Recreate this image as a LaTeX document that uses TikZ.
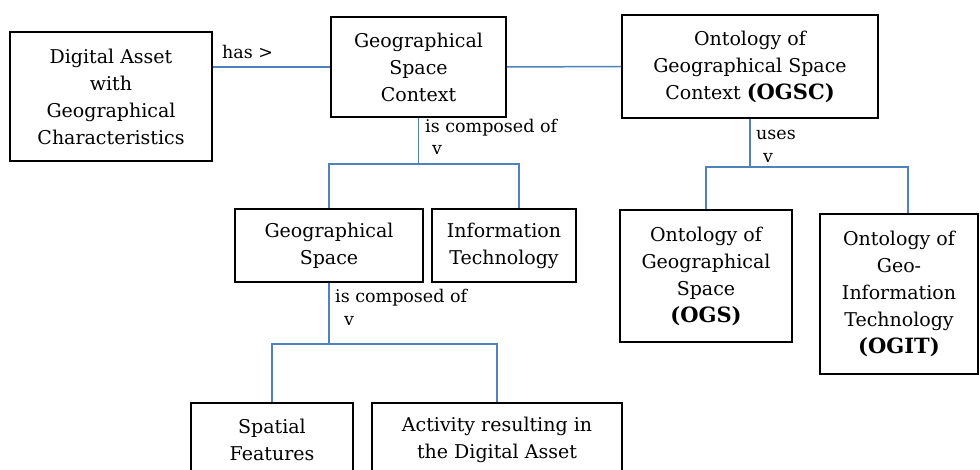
\documentclass[tikz,border=0pt]{standalone}
\usepackage{fontspec}
\setmainfont{DejaVu Serif}
\usetikzlibrary{calc}
\begin{document}
\begin{tikzpicture}[x=1pt,y=-1pt,
  box/.style={draw=black, line width=1.6pt, align=center, inner sep=0pt,
    font=\fontsize{19}{27}\selectfont},
  link/.style={draw=linkblue, line width=1.5pt},
  lbl/.style={anchor=west, inner sep=0pt, font=\fontsize{17.5}{20}\selectfont}]
\definecolor{linkblue}{RGB}{79,129,189}
\newcommand\acr[1]{{\fontsize{21}{29}\selectfont\bfseries #1}}
\useasboundingbox (0,0) rectangle (980,470);

% boxes
\node[box, minimum width=202pt, minimum height=129pt] (asset) at (111,96.5)
  {Digital Asset\\with\\Geographical\\Characteristics};
\node[box, minimum width=175pt, minimum height=100pt] (gsc) at (418.5,67)
  {Geographical\\Space\\Context};
\node[box, minimum width=256pt, minimum height=103pt] (ogsc) at (750,66.5)
  {Ontology of\\Geographical Space\\Context \acr{(OGSC)}};
\node[box, minimum width=188pt, minimum height=73pt] (gs) at (329,245.5)
  {Geographical\\Space};
\node[box, minimum width=144pt, minimum height=73pt] (it) at (504,245.5)
  {Information\\Technology};
\node[box, minimum width=162pt, minimum height=74pt] (sf) at (272,440)
  {Spatial\\Features};
\node[box, minimum width=250pt, minimum height=74pt] (act) at (497,440)
  {Activity resulting in\\the Digital Asset};
\node[box, minimum width=172pt, minimum height=132pt] (ogs) at (706,276)
  {Ontology of\\Geographical\\Space\\\acr{(OGS)}};
\node[box, minimum width=158pt, minimum height=160pt] (ogit) at (899,294)
  {Ontology of\\Geo-\\Information\\Technology\\\acr{(OGIT)}};

% horizontal links
\draw[link] (asset.east |- gsc.west) -- (gsc.west);
\draw[link] (gsc.east) -- (ogsc.west);
\node[lbl] (has) at (222,52) {has >};

% Geographical Space Context is composed of
\coordinate (j1) at ($(gsc.south)+(0,46)$);
\draw[link] (gsc.south) -- (j1);
\draw[link] (gs.north) -- (gs.north |- j1) -- ($(it.north |- j1)+(15,0)$) -- ($(it.north)+(15,0)$);
\node[lbl] (comp1) at (425,128) {is composed of};
\node[lbl] (v1) at (432,150) {v};

% Geographical Space is composed of
\coordinate (j2) at ($(gs.south)+(0,61)$);
\draw[link] (gs.south) -- (j2);
\draw[link] (sf.north) -- (sf.north |- j2) -- (act.north |- j2) -- (act.north);
\node[lbl] (comp2) at (335,298) {is composed of};
\node[lbl] (v2) at (344,321) {v};

% OGSC uses
\coordinate (j3) at ($(ogsc.south)+(0,48)$);
\draw[link] (ogsc.south) -- (j3);
\draw[link] (ogs.north) -- (ogs.north |- j3) -- ($(ogit.north |- j3)+(9,0)$) -- ($(ogit.north)+(9,0)$);
\node[lbl] (uses) at (756,135) {uses};
\node[lbl] (v3) at (763,158) {v};
\end{tikzpicture}
\end{document}
